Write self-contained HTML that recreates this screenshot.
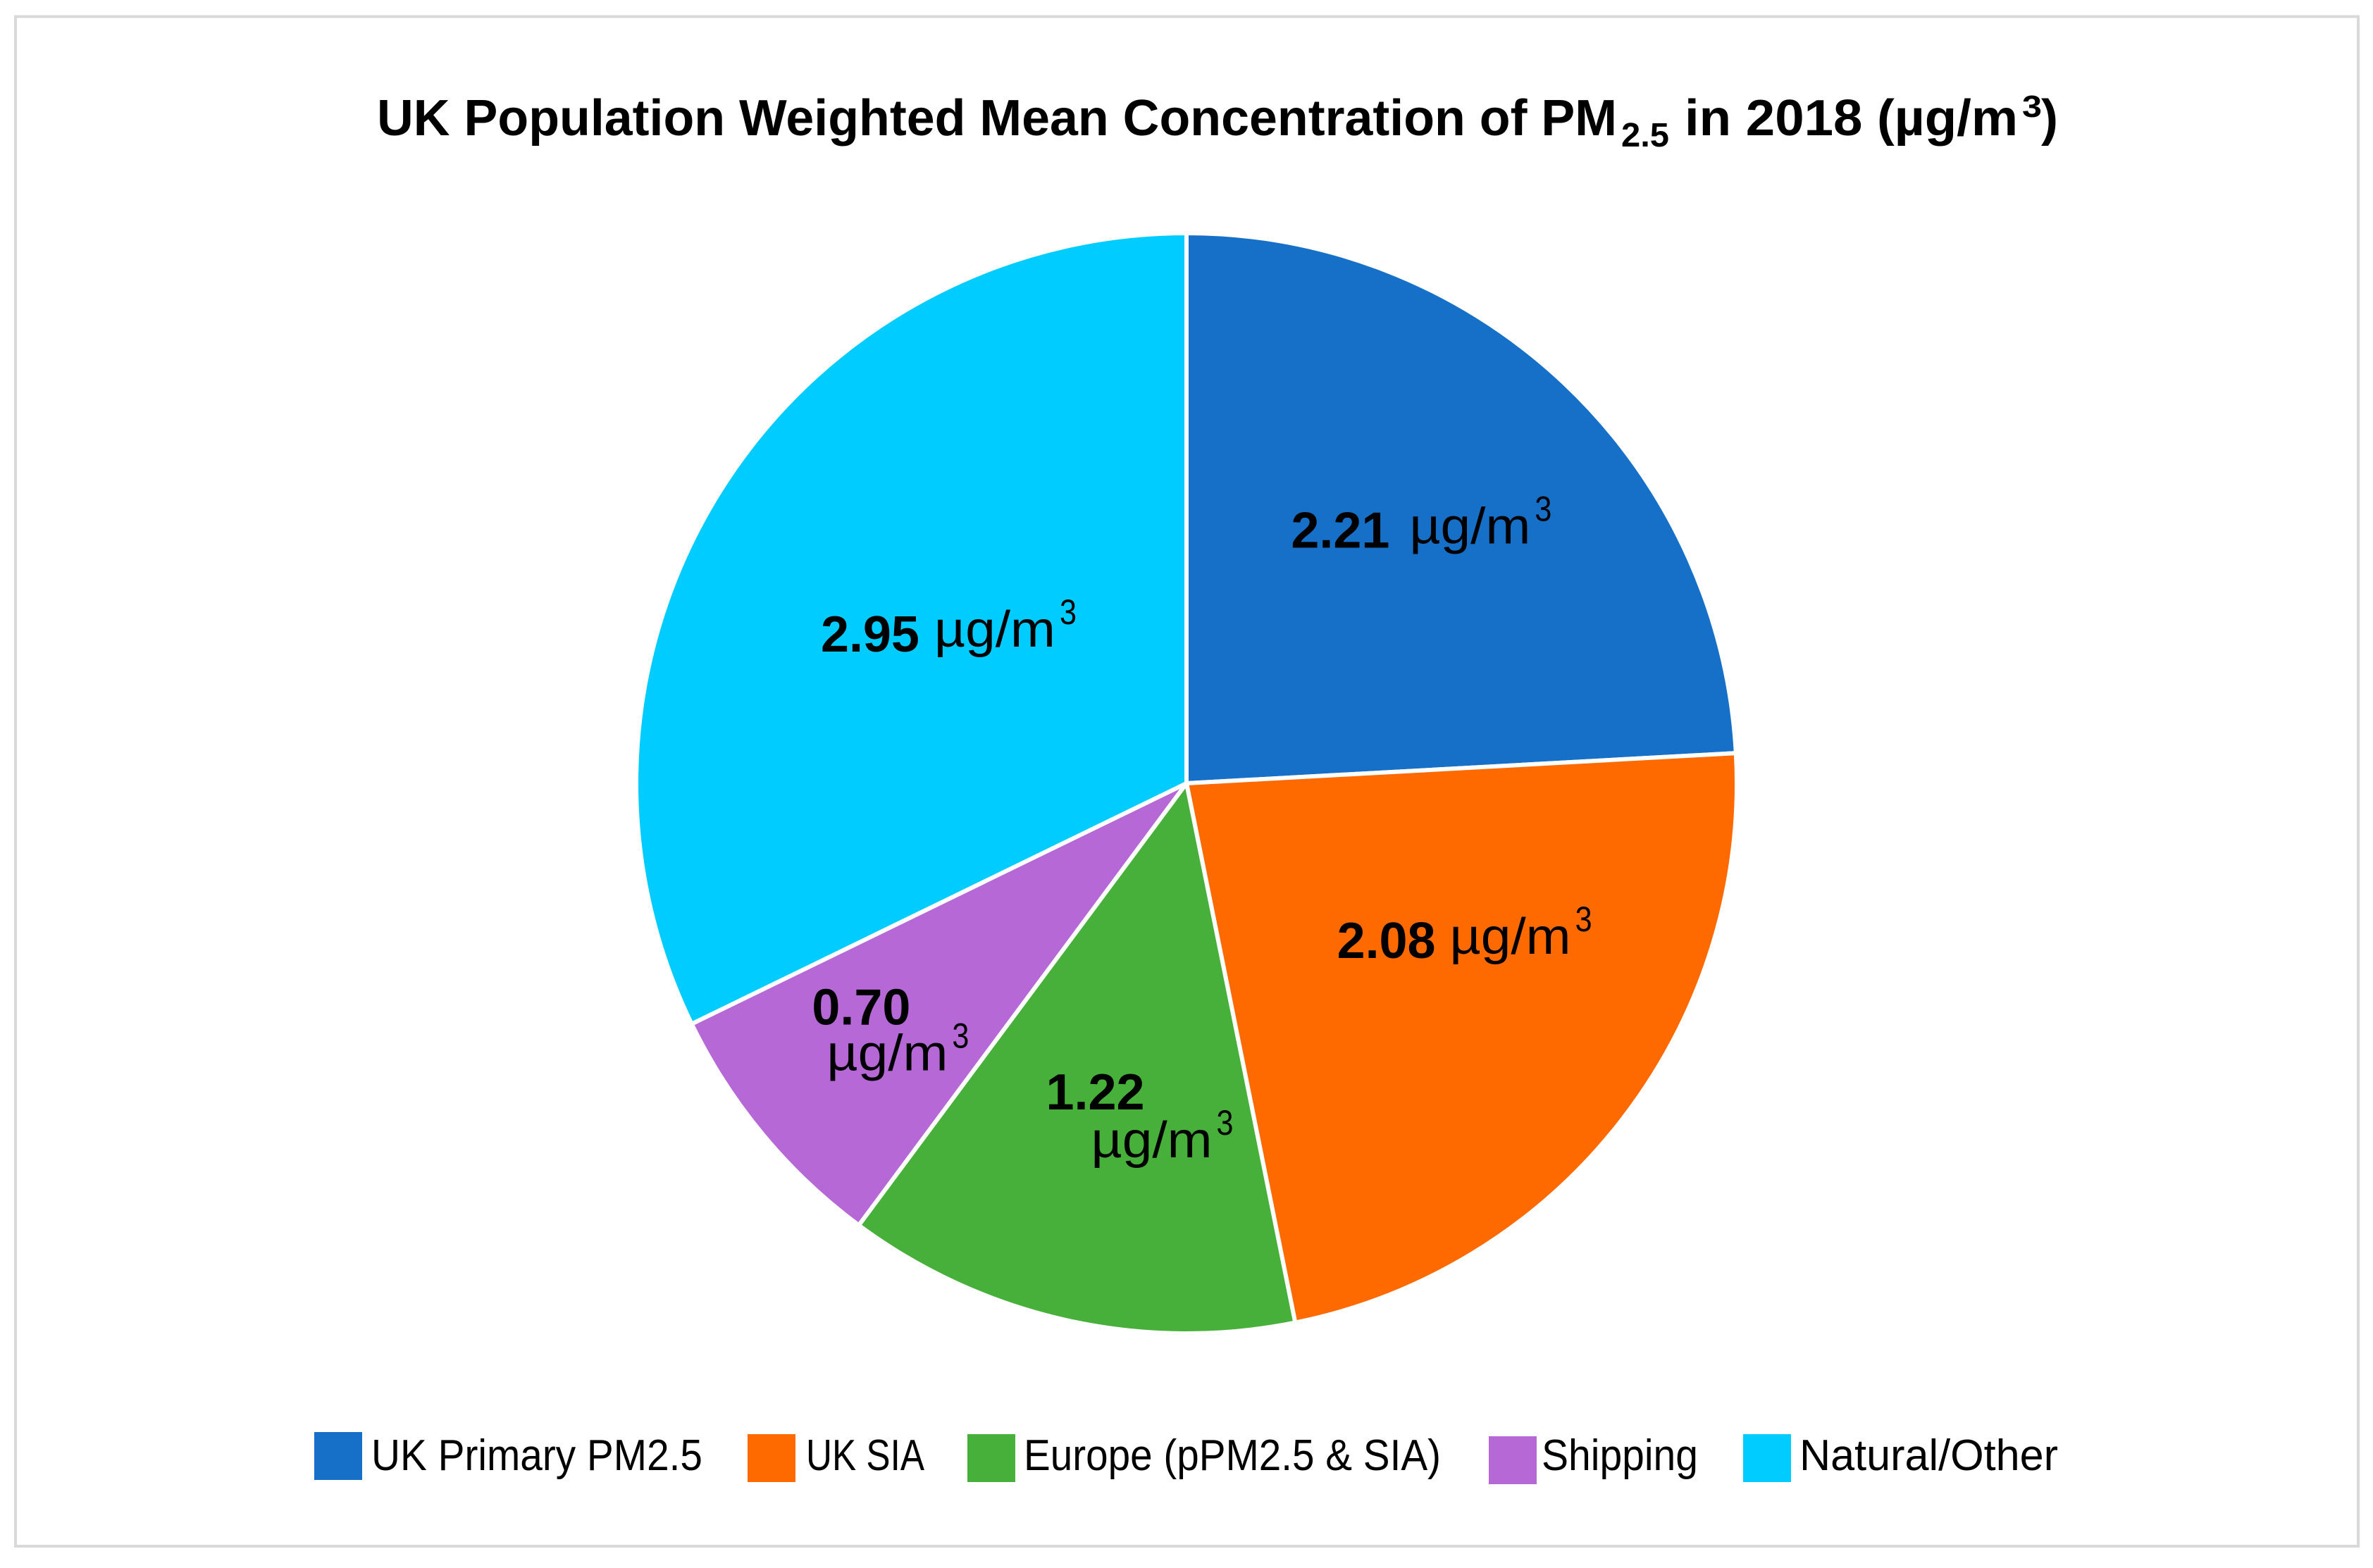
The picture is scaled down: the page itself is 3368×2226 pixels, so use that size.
<!DOCTYPE html>
<html lang="en">
<head>
<meta charset="utf-8">
<title>UK Population Weighted Mean Concentration of PM2.5 in 2018</title>
<style>
  html, body { margin: 0; padding: 0; background: #ffffff; }
  body { width: 3368px; height: 2226px; overflow: hidden; }
  svg { display: block; }
  text { font-family: "Liberation Sans", sans-serif; fill: #000000; }
  .bold { font-weight: 700; }
</style>
</head>
<body>
<svg id="chart" xmlns="http://www.w3.org/2000/svg" width="3368" height="2226" viewBox="0 0 3368 2226">
  <rect x="0" y="0" width="3368" height="2226" fill="#ffffff"/>
  <rect x="22" y="23.5" width="3325" height="2171.5" fill="#ffffff" stroke="#d9d9d9" stroke-width="4"/>
  <g>
    <text class="bold" x="535" y="192" font-size="72" textLength="1760" lengthAdjust="spacingAndGlyphs">UK Population Weighted Mean Concentration of PM</text>
    <text class="bold" x="2301" y="208" font-size="48" textLength="68" lengthAdjust="spacingAndGlyphs">2.5</text>
    <text class="bold" x="2391" y="192" font-size="72" textLength="473" lengthAdjust="spacingAndGlyphs">in 2018 (µg/m</text>
    <text class="bold" x="2870" y="166" font-size="44" textLength="28" lengthAdjust="spacingAndGlyphs">3</text>
    <text class="bold" x="2897" y="192" font-size="72" textLength="24" lengthAdjust="spacingAndGlyphs">)</text>
  </g>
  <g id="slices"></g>
  <g id="labels"></g>
  <g id="legend"></g>
</svg>
<script>
const categories = ["UK Primary PM2.5", "UK SIA", "Europe (pPM2.5 & SIA)", "Shipping", "Natural/Other"];
const values = [2.21, 2.08, 1.22, 0.70, 2.95];
const valueLabels = ["2.21", "2.08", "1.22", "0.70", "2.95"];
const unitLabel = "µg/m";
const unitSuperscript = "3";
const sliceColors = ["#1770c8", "#ff6a00", "#47b03a", "#b568d6", "#00ccff"];
const sliceKeys = ["uk-primary", "uk-sia", "europe", "shipping", "natural-other"];

const SVG_NS = "http://www.w3.org/2000/svg";
const pie = { cx: 1684, cy: 1112, r: 781, labelRadius: 466 };

/* Manual label placement, relative to each slice's mid-angle anchor. */
const labelPlacement = [
  { value: [-172, 4],   unit: [168, -6] },
  { value: [-155, -37], unit: [160, -6] },
  { value: [-98, 8],    unit: [64, 68] },
  { value: [-173, 45],  unit: [21, 65] },
  { value: [-124, 60],  unit: [161, -7] }
];
const legendPlacement = [
  { x: 446,  y: 2033, textX: 527,  textW: 470 },
  { x: 1061, y: 2036, textX: 1144, textW: 168 },
  { x: 1373, y: 2036, textX: 1453, textW: 592 },
  { x: 2113, y: 2039, textX: 2188, textW: 222 },
  { x: 2474, y: 2036, textX: 2554, textW: 367 }
];

const total = values.reduce(function (a, b) { return a + b; }, 0);
function angleOf(v) { return v / total * Math.PI * 2; }
function polar(angle, radius) {
  return [pie.cx + radius * Math.sin(angle), pie.cy - radius * Math.cos(angle)];
}
function makeText(parent, str, x, y, size, width, bold) {
  const t = document.createElementNS(SVG_NS, "text");
  t.setAttribute("x", x);
  t.setAttribute("y", y);
  t.setAttribute("font-size", size);
  t.setAttribute("textLength", width);
  t.setAttribute("lengthAdjust", "spacingAndGlyphs");
  if (bold) t.setAttribute("class", "bold");
  t.textContent = str;
  parent.appendChild(t);
  return t;
}

const sliceGroup = document.getElementById("slices");
const labelGroup = document.getElementById("labels");
const legendGroup = document.getElementById("legend");

let cumulative = 0;
values.forEach(function (v, i) {
  const a0 = angleOf(cumulative);
  const a1 = angleOf(cumulative + v);
  cumulative += v;
  const p0 = polar(a0, pie.r);
  const p1 = polar(a1, pie.r);
  const large = (a1 - a0) > Math.PI ? 1 : 0;

  const path = document.createElementNS(SVG_NS, "path");
  path.setAttribute("d", "M" + pie.cx + " " + pie.cy + " L" + p0[0] + " " + p0[1] +
    " A" + pie.r + " " + pie.r + " 0 " + large + " 1 " + p1[0] + " " + p1[1] + " Z");
  path.setAttribute("fill", sliceColors[i]);
  path.setAttribute("stroke", "#ffffff");
  path.setAttribute("stroke-width", "6");
  path.setAttribute("stroke-linejoin", "round");
  
  
  sliceGroup.appendChild(path);

  const anchor = polar((a0 + a1) / 2, pie.labelRadius);
  const place = labelPlacement[i];
  const vx = anchor[0] + place.value[0];
  const vy = anchor[1] + place.value[1];
  const ux = vx + place.unit[0];
  const uy = vy + place.unit[1];

  const g = document.createElementNS(SVG_NS, "g");
  
  
  labelGroup.appendChild(g);
  makeText(g, valueLabels[i], vx, vy, 72, 140, true);
  makeText(g, unitLabel, ux, uy, 72, 172, false);
  makeText(g, unitSuperscript, ux + 178, uy - 32, 50, 24, false);

  const lp = legendPlacement[i];
  const entry = document.createElementNS(SVG_NS, "g");
  
  
  legendGroup.appendChild(entry);
  const swatch = document.createElementNS(SVG_NS, "rect");
  swatch.setAttribute("x", lp.x);
  swatch.setAttribute("y", lp.y);
  swatch.setAttribute("width", 68);
  swatch.setAttribute("height", 68);
  swatch.setAttribute("fill", sliceColors[i]);
  
  
  entry.appendChild(swatch);
  makeText(entry, categories[i], lp.textX, 2087, 62, lp.textW, false);
});
</script>
</body>
</html>
